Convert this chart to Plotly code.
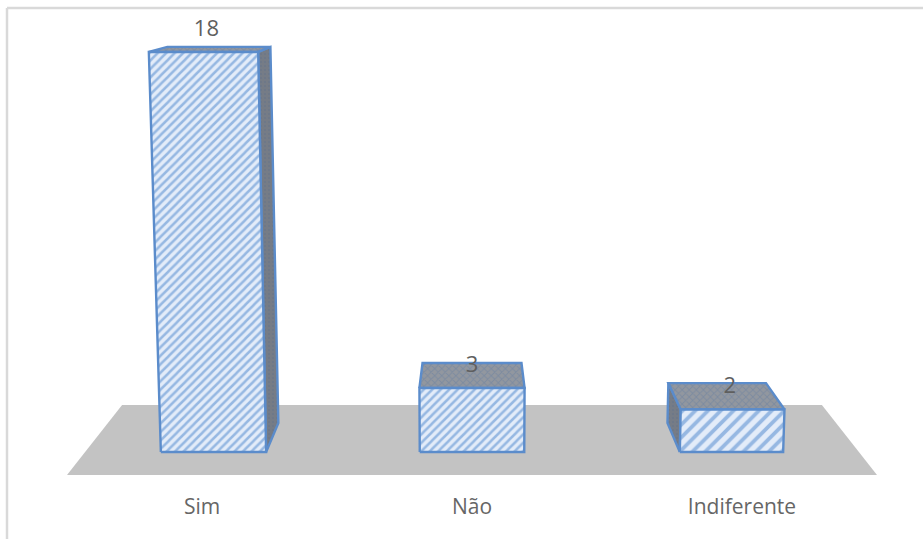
import plotly.graph_objects as go

categories = ["Sim", "Não", "Indiferente"]
values = [18, 3, 2]

# Horizontal extent of each column on the floor, as a share of the floor half-width
column_spans = [(-0.804, -0.532), (-0.135, 0.135), (0.537, 0.804)]
# The rightmost column shows a coarser hatch
hatch_sizes = [6, 6, 9]

PX_X = 270.0   # pixels per category slot
PX_Y = 22.2    # pixels per value unit
FRONT, BACK = 0, 1


def rise(v):
    """Foreshortened height of a value above the floor."""
    return v * (0.953 + 0.00267 * v)


def project(u, v, depth):
    """Map floor share u, value v and depth (front 0, back 1) onto the axes."""
    half_width = (387 if depth == FRONT else 364) + 0.83 * v
    x = 1 + u * half_width / PX_X
    lift = depth * (29 - 1.33 * v) / PX_Y
    return x, rise(v) + lift


def face(corners):
    xs, ys = zip(*(project(*c) for c in corners))
    return list(xs) + [xs[0]], list(ys) + [ys[0]]


def polygon(corners, fill, pattern=None, line="#5b8ccb", width=2.4):
    xs, ys = face(corners)
    return go.Scatter(
        x=xs, y=ys, mode="lines", fill="toself", fillcolor=fill,
        fillpattern=pattern, line=dict(color=line, width=width),
        hoverinfo="skip", showlegend=False,
    )


def front_hatch(size):
    return dict(shape="/", bgcolor="#e3ecf9", fgcolor="#4a84cc", size=size, solidity=0.42)


top_hatch = dict(shape="x", bgcolor="#92979f", fgcolor="#6880a0", size=5, solidity=0.35)
side_hatch = dict(shape=".", bgcolor="#767c86", fgcolor="#66748a", size=4, solidity=0.3)

fig = go.Figure()

# Grey floor plane
fig.add_trace(go.Scatter(
    x=[-0.5, -0.296, 2.296, 2.5, -0.5], y=[-1.036, 2.117, 2.117, -1.036, -1.036],
    mode="lines", fill="toself", fillcolor="#c3c3c3", line=dict(width=0),
    hoverinfo="skip", showlegend=False,
))

for (left, right), v, hatch in zip(column_spans, values, hatch_sizes):
    # The side facing the chart centre stays hidden; only the outer one shows
    if right < 0:
        fig.add_trace(polygon([(right, 0, FRONT), (right, 0, BACK), (right, v, BACK), (right, v, FRONT)],
                              "#767c86", side_hatch))
    elif left > 0:
        fig.add_trace(polygon([(left, 0, FRONT), (left, 0, BACK), (left, v, BACK), (left, v, FRONT)],
                              "#4f5864", side_hatch))
    fig.add_trace(polygon([(left, v, FRONT), (left, v, BACK), (right, v, BACK), (right, v, FRONT)],
                          "#92979f", top_hatch))
    fig.add_trace(polygon([(left, 0, FRONT), (right, 0, FRONT), (right, v, FRONT), (left, v, FRONT)],
                          "#e3ecf9", front_hatch(hatch)))

# Value labels sit just above each front face
label_x, label_y = [], []
for (left, right), v in zip(column_spans, values):
    x0, y0 = project(0.989 * (left + right) / 2, v, FRONT)
    label_x.append(x0)
    label_y.append(y0 + 0.98)
fig.add_trace(go.Scatter(
    x=label_x, y=label_y, mode="text", text=[str(v) for v in values],
    textfont=dict(family="Open Sans", size=22, color="#5f5f5f"),
    hoverinfo="skip", showlegend=False,
))

# Thin grey frame along the top and left of the chart area
frame = dict(type="line", xref="paper", yref="paper", line=dict(color="#d9d9d9", width=2.5))
def paper_x(px): return (px - 67) / 810
def paper_y(py): return (475 - py) / 467
fig.update_layout(shapes=[
    dict(frame, x0=paper_x(7), x1=paper_x(7), y0=paper_y(8), y1=paper_y(539)),
    dict(frame, x0=paper_x(7), x1=paper_x(923), y0=paper_y(8), y1=paper_y(8)),
])

fig.update_layout(
    width=923, height=539,
    margin=dict(l=67, r=46, t=8, b=64),
    paper_bgcolor="white", plot_bgcolor="rgba(0,0,0,0)",
    showlegend=False,
    xaxis=dict(
        range=[-0.5, 2.5], tickmode="array", tickvals=[0, 1, 2], ticktext=categories,
        showgrid=False, zeroline=False, showline=False, ticks="outside",
        ticklen=13, tickcolor="rgba(0,0,0,0)",
        tickfont=dict(family="Open Sans", size=21, color="#666666"),
    ),
    yaxis=dict(range=[-1.036, 20], visible=False),
)

fig.write_html("out.html")
